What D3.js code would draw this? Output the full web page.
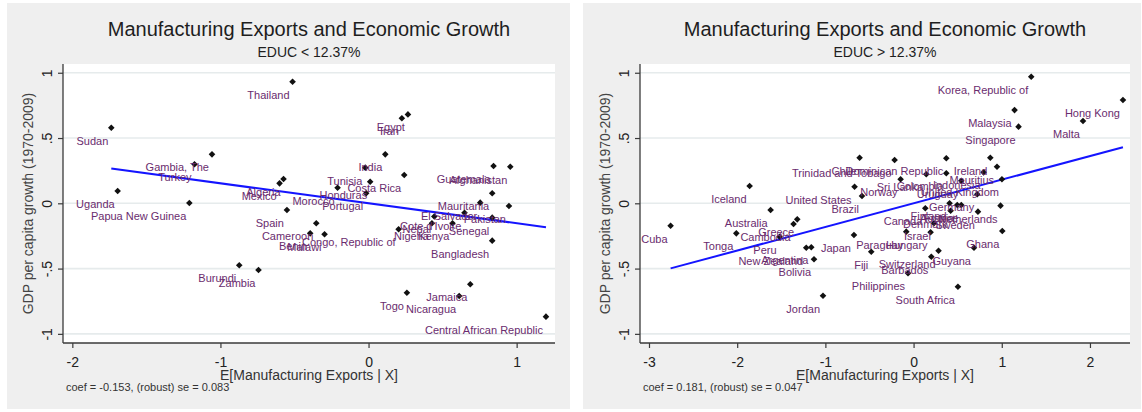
<!DOCTYPE html>
<html>
<head>
<meta charset="utf-8">
<script src="https://cdn.jsdelivr.net/npm/d3@7"></script>
<style>
  html, body { margin: 0; padding: 0; background: #ffffff; }
  svg { display: block; font-family: Arial, "Liberation Sans", sans-serif; }
</style>
</head>
<body>
<svg id="chart" width="1142" height="412"></svg>
<script>
// ---- Data: added-variable plots, GDP per capita growth vs manufacturing exports ----
const titleText = "Manufacturing Exports and Economic Growth";
const subtitles = ["EDUC < 12.37%", "EDUC > 12.37%"];
const coefs = [-0.153, 0.181];
const robustSe = [0.083, 0.047];

const lowCountries = [
  "Thailand", "Sudan", "Gambia, The", "Turkey", "Uganda", "Papua New Guinea",
  "Mexico", "Algeria", "Spain", "Cameroon", "Benin", "Malawi", "Congo, Republic of",
  "Burundi", "Zambia", "Egypt", "Iran", "India", "Tunisia", "Costa Rica", "Honduras",
  "Morocco", "Portugal", "Guatemala", "Afghanistan", "Mauritania", "El Salvador",
  "Pakistan", "Cote d'Ivoire", "Nepal", "Senegal", "Kenya", "Nigeria", "Bangladesh", "Togo",
  "Jamaica", "Nicaragua", "Central African Republic"
];
const lowX = [
  -0.513, -1.737, -1.057, -1.175, -1.694, -1.210,
  -0.601, -0.574, -0.551, -0.353, -0.394, -0.297, 0.203,
  -0.873, -0.743, 0.266, 0.225, 0.113, -0.022, 0.241, 0.011,
  -0.209, -0.016, 0.844, 0.957, 0.835, 0.754,
  0.948, 0.648, 0.444, 0.835, 0.567, 0.428, 0.835, 0.259,
  0.687, 0.612, 1.198
];
const lowY = [
  0.931, 0.579, 0.375, 0.299, 0.094, 0.002,
  0.153, 0.186, -0.051, -0.153, -0.230, -0.237, -0.199,
  -0.475, -0.511, 0.681, 0.651, 0.375, 0.273, 0.217, 0.165,
  0.119, 0.077, 0.286, 0.280, 0.077, 0.005,
  -0.021, -0.072, -0.101, -0.110, -0.153, -0.153, -0.286, -0.685,
  -0.620, -0.710, -0.868
];

const highCountries = [
  "Korea, Republic of", "Hong Kong", "Malaysia", "Malta", "Singapore", "Chile",
  "Trinidad and Tobago", "Dominican Republic", "Ireland", "Mauritius", "Indonesia",
  "Sri Lanka", "Colombia", "Norway", "United States", "United Kingdom", "Uruguay",
  "Brazil", "Iceland", "Germany", "Netherlands", "Finland", "Austria", "France",
  "Canada", "Denmark", "Sweden", "Israel", "Paraguay", "Hungary", "Ghana", "Guyana",
  "Switzerland", "Barbados", "Fiji", "Philippines", "South Africa", "Japan", "Jordan",
  "Bolivia", "New Zealand", "Argentina", "Peru", "Cambodia", "Greece", "Tonga",
  "Australia", "Cuba"
];
const highX = [
  1.334, 2.374, 1.145, 1.921, 1.190, -0.612,
  -0.215, 0.371, 0.870, 0.946, 0.794,
  0.144, 0.371, -0.147, -0.669, 1.002, 0.541,
  -0.585, -1.859, 0.722, 0.986, 0.408, 0.495, 0.541,
  0.133, 0.420, 0.730, 0.231, -0.083, 0.193, 1.006, 0.685,
  0.283, 0.201, -0.480, -0.063, 0.503, -0.676, -1.027,
  -1.129, -1.217, -1.160, -1.519, -1.361, -1.319, -2.010,
  -1.621, -2.755
];
const highY = [
  0.969, 0.791, 0.714, 0.630, 0.587, 0.349,
  0.332, 0.345, 0.349, 0.280, 0.237,
  0.222, 0.230, 0.184, 0.127, 0.184, 0.173,
  0.056, 0.132, 0.069, -0.018, 0.000, -0.013, -0.013,
  -0.038, -0.057, -0.064, -0.153, -0.217, -0.222, -0.212, -0.340,
  -0.363, -0.409, -0.371, -0.536, -0.639, -0.243, -0.708,
  -0.429, -0.340, -0.337, -0.256, -0.158, -0.123, -0.230,
  -0.051, -0.172
];

const yTicks = [-1, -0.5, 0, 0.5, 1];
const lowXTicks = [-2, -1, 0, 1];
const highXTicks = [-3, -2, -1, 0, 1, 2];
const yTitle = "GDP per capita growth (1970-2009)";
const xTitle = "E[Manufacturing Exports | X]";

// ---- Layout ----
const svg = d3.select("#chart");
const panels = [
  { bg: [7, 570], plot: [63, 555], xDomain: [-2.063, 1.259], xTicks: lowXTicks,
    names: lowCountries, xs: lowX, ys: lowY, sub: subtitles[0], coef: coefs[0], se: robustSe[0] },
  { bg: [583, 1141], plot: [640, 1130], xDomain: [-3.102, 2.454], xTicks: highXTicks,
    names: highCountries, xs: highX, ys: highY, sub: subtitles[1], coef: coefs[1], se: robustSe[1] }
];
const plotTop = 64, plotBottom = 343;
const yDomain = [-1.07, 1.067];

// Stata-style tick labels: ".5", "-.5"
const fmtTick = v => {
  if (v === 0) return "0";
  const s = String(Math.abs(v)).replace(/^0\./, ".");
  return (v < 0 ? "-" : "") + s;
};

const diamond = "M0,-3.3L3.3,0L0,3.3L-3.3,0Z";

panels.forEach(p => {
  const g = svg.append("g");
  // graph region
  g.append("rect").attr("x", p.bg[0]).attr("y", 3)
    .attr("width", p.bg[1] - p.bg[0]).attr("height", 406).attr("fill", "#efefef");
  // plot region
  g.append("rect").attr("x", p.plot[0]).attr("y", plotTop)
    .attr("width", p.plot[1] - p.plot[0]).attr("height", plotBottom - plotTop).attr("fill", "#ffffff");

  const x = d3.scaleLinear().domain(p.xDomain).range(p.plot);
  const y = d3.scaleLinear().domain(yDomain).range([plotBottom, plotTop]);
  const cx = (p.plot[0] + p.plot[1]) / 2;

  // gridlines
  g.append("g").selectAll("line").data(yTicks).join("line")
    .attr("x1", p.plot[0]).attr("x2", p.plot[1])
    .attr("y1", d => y(d)).attr("y2", d => y(d))
    .attr("stroke", "#e6ebec").attr("stroke-width", 1.6);

  // axes
  const yAxis = d3.axisLeft(y).tickValues(yTicks).tickFormat(fmtTick).tickSize(5);
  const ya = g.append("g").attr("transform", `translate(${p.plot[0]},0)`).call(yAxis);
  ya.select(".domain").attr("d", `M0,${plotTop}V${plotBottom}`);
  // vertical tick labels
  ya.selectAll(".tick text")
    .attr("transform", "rotate(-90)")
    .attr("x", 0).attr("y", -11).attr("dy", null)
    .attr("text-anchor", "middle").attr("font-size", 14).attr("fill", "#222");

  const xAxis = d3.axisBottom(x).tickValues(p.xTicks).tickFormat(fmtTick).tickSize(5);
  const xa = g.append("g").attr("transform", `translate(0,${plotBottom})`).call(xAxis);
  xa.select(".domain").attr("d", `M${p.plot[0]},0H${p.plot[1]}`);
  xa.selectAll(".tick text").attr("font-size", 14).attr("fill", "#222").attr("dy", null).attr("y", 24);
  [ya, xa].forEach(a => {
    a.select(".domain").attr("stroke", "#3a3a3a").attr("stroke-width", 1.3);
    a.selectAll(".tick line").attr("stroke", "#3a3a3a").attr("stroke-width", 1.2);
    a.attr("font-family", null);
  });

  // titles
  g.append("text").attr("x", cx).attr("y", 36).attr("text-anchor", "middle")
    .attr("font-size", 20).attr("fill", "#1e1e1e").text(titleText);
  g.append("text").attr("x", cx).attr("y", 57).attr("text-anchor", "middle")
    .attr("font-size", 14).attr("fill", "#1e1e1e").text(p.sub);
  g.append("text").attr("x", cx).attr("y", 380).attr("text-anchor", "middle")
    .attr("font-size", 14).attr("fill", "#333").text(xTitle);
  g.append("text").attr("transform", `translate(${p.plot[0] - 30},${(plotTop + plotBottom) / 2}) rotate(-90)`)
    .attr("text-anchor", "middle").attr("font-size", 14).attr("fill", "#444").text(yTitle);
  g.append("text").attr("x", p.plot[0] + 3).attr("y", 391)
    .attr("font-size", 11).attr("fill", "#333")
    .text(`coef = ${p.coef.toFixed(3)}, (robust) se = ${p.se.toFixed(3)}`);

  const pts = p.names.map((n, i) => ({ name: n, x: p.xs[i], y: p.ys[i] }));

  // fitted line through the origin with the reported slope
  const ext = d3.extent(pts, d => d.x);
  g.append("line")
    .attr("x1", x(ext[0])).attr("y1", y(p.coef * ext[0]))
    .attr("x2", x(ext[1])).attr("y2", y(p.coef * ext[1]))
    .attr("stroke", "#1414ff").attr("stroke-width", 2);

  // markers
  g.append("g").selectAll("path").data(pts).join("path")
    .attr("d", diamond)
    .attr("transform", d => `translate(${x(d.x)},${y(d.y)})`)
    .attr("fill", "#111");

  // marker labels at the 7 o'clock position
  g.append("g").selectAll("text").data(pts).join("text")
    .attr("x", d => x(d.x) - 3).attr("y", d => y(d.y) + 17)
    .attr("text-anchor", "end").attr("font-size", 11).attr("fill", "#6a2c6e")
    .text(d => d.name);
});
</script>
</body>
</html>
